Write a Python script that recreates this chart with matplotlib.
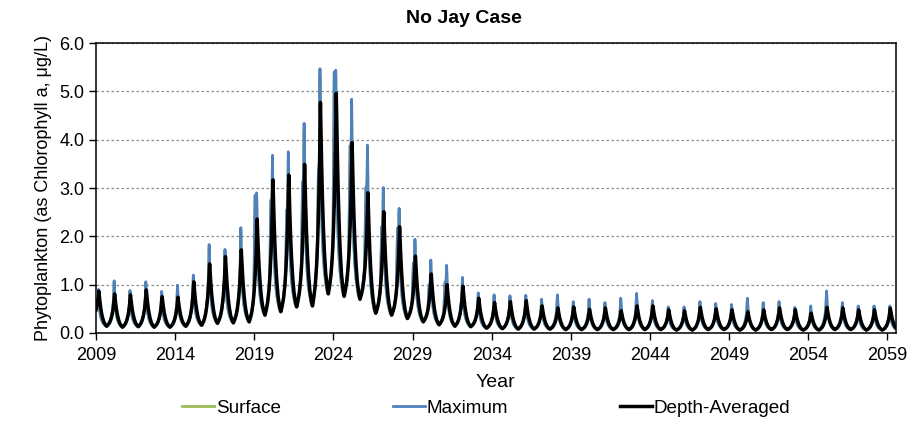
import numpy as np
import matplotlib
matplotlib.use("Agg")
import matplotlib.pyplot as plt

plt.rcParams['font.family'] = ['Liberation Sans', 'DejaVu Sans']

# one annual bloom per year (ug/L)
years = list(range(2009, 2060))

depth_peak = [0.87, 0.81, 0.79, 0.89, 0.75, 0.74, 1.06, 1.43, 1.58, 1.72,
              2.36, 3.17, 3.27, 3.49, 4.77, 4.96, 3.94, 2.90, 2.51, 2.20,
              1.59, 1.22, 1.00, 0.97, 0.72, 0.63, 0.65, 0.67, 0.56, 0.52,
              0.54, 0.49, 0.52, 0.46, 0.56, 0.56, 0.48, 0.46, 0.53, 0.50,
              0.48, 0.44, 0.48, 0.52, 0.48, 0.41, 0.53, 0.52, 0.48, 0.48,
              0.51]
depth_trough = [0.14, 0.12, 0.13, 0.12, 0.12, 0.14, 0.16, 0.20, 0.21, 0.23,
                0.37, 0.44, 0.54, 0.56, 0.81, 0.76, 0.70, 0.41, 0.37, 0.30,
                0.23, 0.17, 0.14, 0.13, 0.10, 0.09, 0.08, 0.08, 0.08, 0.07,
                0.07, 0.07, 0.07, 0.07, 0.07, 0.07, 0.06, 0.06, 0.07, 0.07,
                0.06, 0.06, 0.07, 0.07, 0.06, 0.06, 0.07, 0.07, 0.06, 0.06,
                0.06]
max_peak = [0.90, 1.08, 0.88, 1.06, 0.86, 0.99, 1.20, 1.83, 1.73, 2.18,
            2.90, 3.68, 3.75, 4.34, 5.47, 5.44, 4.84, 3.89, 3.01, 2.58,
            1.94, 1.51, 1.40, 1.15, 0.83, 0.79, 0.77, 0.78, 0.70, 0.79,
            0.65, 0.70, 0.63, 0.72, 0.82, 0.67, 0.54, 0.54, 0.65, 0.61,
            0.59, 0.72, 0.63, 0.65, 0.53, 0.56, 0.87, 0.63, 0.56, 0.56,
            0.56]
max_shoulder = [0, 0, 0, 0, 0, 0, 0, 0, 0, 0,
                2.85, 2.75, 2.55, 3.13, 3.30, 5.40, 3.87, 3.01, 2.20, 2.17,
                1.45, 1.00, 1.05, 0, 0, 0, 0, 0, 0, 0,
                0, 0, 0, 0, 0, 0, 0, 0, 0, 0,
                0, 0, 0, 0, 0, 0, 0, 0, 0, 0,
                0]
surface_peak = [0.88, 1.04, 0.86, 1.02, 0.84, 0.96, 1.16, 1.76, 1.68, 2.10,
                2.80, 3.55, 3.62, 4.20, 5.30, 5.30, 4.70, 3.78, 2.92, 2.50,
                1.88, 1.46, 1.35, 1.11, 0.80, 0.76, 0.74, 0.75, 0.67, 0.76,
                0.63, 0.67, 0.61, 0.69, 0.79, 0.65, 0.52, 0.52, 0.63, 0.59,
                0.57, 0.69, 0.61, 0.63, 0.51, 0.54, 0.83, 0.61, 0.54, 0.54,
                0.54]
start_level = 0.30

# typical bloom profile read from one cycle: (years from peak, fraction of rise)
depth_shape = [(-0.5, 0.0), (-0.42, 0.04), (-0.33, 0.10), (-0.25, 0.19), (-0.18, 0.31),
               (-0.12, 0.46), (-0.07, 0.64), (-0.03, 0.84), (0.0, 1.0), (0.03, 0.86),
               (0.07, 0.70), (0.12, 0.52), (0.18, 0.36), (0.25, 0.22), (0.33, 0.11),
               (0.42, 0.04), (0.5, 0.0)]
max_shape = [(-0.5, 0.0), (-0.42, 0.03), (-0.33, 0.07), (-0.25, 0.13), (-0.18, 0.21),
             (-0.10, 0.36), (-0.04, 0.60), (-0.02, 0.82), (0.0, 1.0), (0.02, 0.84),
             (0.05, 0.58), (0.09, 0.41), (0.14, 0.28), (0.20, 0.18), (0.27, 0.11),
             (0.35, 0.06), (0.43, 0.02), (0.5, 0.0)]


def series(peaks, troughs, shape, lag, shoulder=None):
    t, v = [], []
    for k, yr in enumerate(years):
        before = troughs[k - 1] if k > 0 else start_level
        for r, f in shape:
            if k > 0 and r == -0.5:
                continue
            base = before if r < 0 else troughs[k]
            val = base + f * (peaks[k] - base)
            if shoulder and shoulder[k] and -0.11 < r < -0.01:
                val = max(val, shoulder[k])
            t.append(yr + lag + r)
            v.append(val)
    t, v = np.array(t), np.array(v)
    keep = t >= 2009
    return t[keep], v[keep]


fig = plt.figure(figsize=(9.14, 4.23), dpi=100)
ax = fig.add_axes([0.105, 0.2128, 0.875, 0.6852])

ts, vs = series(surface_peak, depth_trough, max_shape, 0.15, max_shoulder)
tm, vm = series(max_peak, depth_trough, max_shape, 0.15, max_shoulder)
td, vd = series(depth_peak, depth_trough, depth_shape, 0.18)

ax.plot(ts, vs, color='#9BBB59', lw=2, label='Surface', zorder=3)
ax.plot(tm, vm, color='#4F81BD', lw=2, label='Maximum', zorder=4)
ax.plot(td, vd, color='black', lw=2.5, label='Depth-Averaged', zorder=5)

ax.set_xlim(2009, 2059.52)
ax.set_ylim(0, 6)
ax.set_xticks(range(2009, 2060, 5))
ax.set_yticks(np.arange(0, 6.01, 1.0))
ax.set_yticklabels([f'{y:.1f}' for y in np.arange(0, 6.01, 1.0)])
ax.tick_params(direction='out', length=5, width=1, labelsize=13, color='black')
ax.tick_params(axis='x', pad=5)
ax.yaxis.grid(True, linestyle=(0, (2, 2)), color='#8c8c8c', lw=0.9)
ax.set_axisbelow(True)
for s in ax.spines.values():
    s.set_linewidth(1.1)

fig.text(0.508, 0.957, 'No Jay Case', fontsize=14, fontweight='bold',
         ha='center', va='center')
ax.set_xlabel('Year', fontsize=14, labelpad=7)
ax.set_ylabel('Phytoplankton (as Chlorophyll a, \u03bcg/L)', fontsize=13, labelpad=5)

fig.legend(loc='center', bbox_to_anchor=(0.532, 0.035), ncol=3, frameon=False,
           fontsize=13.6, handlelength=1.7, handletextpad=0.1, columnspacing=5.9)

fig.savefig('out.png', dpi=100)
